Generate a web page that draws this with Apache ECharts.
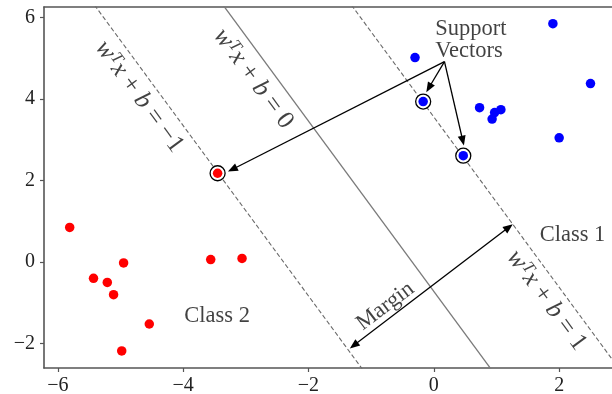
<!DOCTYPE html>
<html>
<head>
<meta charset="utf-8">
<script src="https://cdn.jsdelivr.net/npm/echarts@6/dist/echarts.min.js"></script>
<style>
html,body{margin:0;padding:0;background:#fff;}
#c{width:612px;height:394px;}
</style>
</head>
<body>
<div id="c"></div>
<script>
// ---- data ----
const class1Points = [[-0.30,5.02],[1.90,5.85],[2.50,4.38],[0.73,3.79],[0.97,3.67],[1.07,3.74],[0.93,3.51],[2.00,3.05]];
const class2Points = [[-5.81,0.85],[-5.43,-0.40],[-5.21,-0.50],[-5.11,-0.80],[-4.95,-0.02],[-4.54,-1.52],[-4.98,-2.18],[-3.56,0.06],[-3.06,0.09]];
const class1Support = [[-0.17,3.94],[0.47,2.61]];
const class2Support = [[-3.45,2.18]];
const hyperplane = [[-3.694,7],[1.091,-3]];
const marginLineNeg = [[-5.746,7],[-0.962,-3]];
const marginLinePos = [[-1.646,7],[3.139,-3]];
const supportArrowStart = [0.17,4.92];
const supportArrowEnds = [[-3.285,2.22],[-0.12,4.17],[0.48,2.86]];
const marginArrow = [[-1.34,-2.12],[1.26,0.93]];
const xTicks = [-6,-4,-2,0,2];
const yTicks = [-2,0,2,4,6];
const xRange = [-6.22,2.843];
const yRange = [-2.6,6.26];
const labelTexts = {
  eqNeg: '{i|w}{s|T}{i|x}{e| + }{i|b}{e| = \u22121}',
  eqZero: '{i|w}{s|T}{i|x}{e| + }{i|b}{e| = 0}',
  eqPos: '{i|w}{s|T}{i|x}{e| + }{i|b}{e| = 1}',
  margin: 'Margin',
  class1: 'Class 1',
  class2: 'Class 2',
  support: 'Support\nVectors'
};

// ---- layout / styling ----
const FONT = "'Liberation Serif','Times New Roman',serif";
const labelAnchors = {
  eqNeg: {at:[-4.701,4.06], rot:-53.6},
  eqZero: {at:[-2.881,4.50], rot:-53.6},
  eqPos: {at:[1.798,-0.94], rot:-53.6},
  margin: {at:[-0.773,-1.085], rot:37},
  class1: {at:[2.213,0.66], rot:0},
  class2: {at:[-3.457,-1.334], rot:0}
};
const fmt = v => String(v).replace('-', '\u2212');
const spine = {color:'#555', width:1.6};

const rich = {
  i:{fontStyle:'italic', fontFamily:FONT, fontSize:25.5, color:'#111'},
  e:{fontFamily:FONT, fontSize:25.5, color:'#111'},
  s:{fontStyle:'italic', fontFamily:FONT, fontSize:17, color:'#111', verticalAlign:'top'}
};

const labelData = Object.keys(labelAnchors).map(k => ({
  value: labelAnchors[k].at,
  label: {show:true, position:'inside', rotate: labelAnchors[k].rot, formatter: labelTexts[k]}
}));
labelData.push({
  value:[0.014,5.46],
  label:{show:true, position:'right', distance:0, align:'left', lineHeight:22, formatter: labelTexts.support}
});

const arrowData = supportArrowEnds.map(e => [supportArrowStart[0], supportArrowStart[1], e[0], e[1], 1]);
arrowData.push([marginArrow[0][0], marginArrow[0][1], marginArrow[1][0], marginArrow[1][1], 2]);

function lineSeries(pts, dashed) {
  return {
    type:'line', data: pts, showSymbol:false, clip:true, silent:true, z:1,
    lineStyle: dashed ? {color:'#6a6a6a', width:1.1, type:[4.5,2.5]} : {color:'#7a7a7a', width:1.3, type:'solid'}
  };
}

const chart = echarts.init(document.getElementById('c'), null, {renderer:'canvas'});
chart.setOption({
  animation:false,
  backgroundColor:'#fff',
  grid:{left:44, right:0, top:7, bottom:26, outerBoundsMode:'none', containLabel:false},
  xAxis:[{
    type:'value', min:xRange[0], max:xRange[1], position:'bottom',
    axisLine:{show:true, onZero:false, lineStyle:spine},
    axisTick:{show:true, inside:false, length:4, customValues:xTicks, lineStyle:{color:'#555', width:1.2}},
    axisLabel:{show:true, customValues:xTicks, formatter:fmt, fontFamily:FONT, fontSize:20, color:'#222', margin:8},
    splitLine:{show:false}
  },{
    type:'value', min:xRange[0], max:xRange[1], position:'top',
    axisLine:{show:true, onZero:false, lineStyle:spine},
    axisTick:{show:false}, axisLabel:{show:false}, splitLine:{show:false}
  }],
  yAxis:{
    type:'value', min:yRange[0], max:yRange[1], position:'left',
    axisLine:{show:true, onZero:false, lineStyle:spine},
    axisTick:{show:true, inside:false, length:4, customValues:yTicks, lineStyle:{color:'#555', width:1.2}},
    axisLabel:{show:true, customValues:yTicks, formatter:fmt, fontFamily:FONT, fontSize:20, color:'#222', margin:9},
    splitLine:{show:false}
  },
  series:[
    lineSeries(marginLineNeg, true),
    lineSeries(hyperplane, false),
    lineSeries(marginLinePos, true),
    {type:'scatter', data: class1Support.concat(class2Support), symbolSize:15, z:2, silent:true,
     itemStyle:{color:'#fff', borderColor:'#000', borderWidth:1.3, opacity:1}},
    {type:'scatter', data: class1Points.concat(class1Support), symbolSize:9.5, z:3, silent:true,
     itemStyle:{color:'#0000ff', opacity:1}},
    {type:'scatter', data: class2Points.concat(class2Support), symbolSize:9.5, z:3, silent:true,
     itemStyle:{color:'#ff0000', opacity:1}},
    {type:'custom', coordinateSystem:'cartesian2d', clip:false, silent:true, z:5,
     data: arrowData,
     renderItem: function(params, api){
       const p1 = api.coord([api.value(0), api.value(1)]);
       const p2 = api.coord([api.value(2), api.value(3)]);
       const both = api.value(4) === 2;
       const dx = p2[0]-p1[0], dy = p2[1]-p1[1], L = Math.hypot(dx,dy);
       const ux = dx/L, uy = dy/L, HL = 10, HW = 4;
       const head = (t, ax, ay) => ({type:'polygon', shape:{points:[
           [t[0], t[1]],
           [t[0]-ax*HL - ay*HW, t[1]-ay*HL + ax*HW],
           [t[0]-ax*HL + ay*HW, t[1]-ay*HL - ax*HW]]},
         style:{fill:'#000'}});
       const s = both ? [p1[0]+ux*HL*0.8, p1[1]+uy*HL*0.8] : p1;
       const e = [p2[0]-ux*HL*0.8, p2[1]-uy*HL*0.8];
       const children = [
         {type:'line', shape:{x1:s[0], y1:s[1], x2:e[0], y2:e[1]}, style:{stroke:'#000', lineWidth:1.3}},
         head(p2, ux, uy)
       ];
       if (both) children.push(head(p1, -ux, -uy));
       return {type:'group', children:children};
     }},
    {type:'scatter', data: labelData, symbolSize:1, z:6, silent:true,
     itemStyle:{color:'rgba(0,0,0,0)'},
     label:{show:true, fontFamily:FONT, fontSize:22.5, color:'#111', rich:rich}}
  ]
});
</script>
</body>
</html>
